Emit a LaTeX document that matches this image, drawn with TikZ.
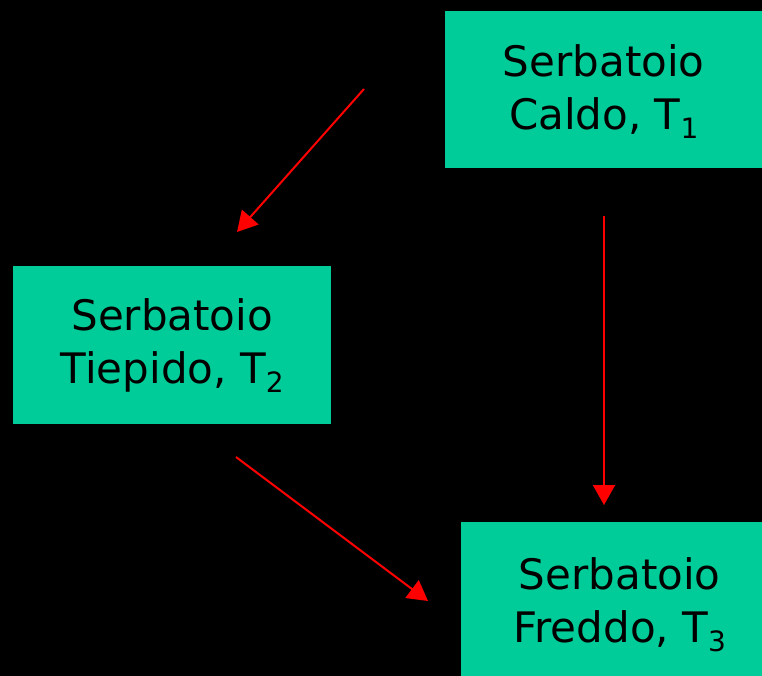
\documentclass[tikz,border=0pt]{standalone}
\usepackage{fontspec}
\setmainfont{DejaVu Sans}
\usetikzlibrary{arrows.meta}
\definecolor{boxteal}{HTML}{00CC99}
\newcommand{\tsub}[1]{{\fontsize{28}{28}\selectfont\raisebox{-9pt}[\height][0pt]{#1}}}
\begin{document}
\begin{tikzpicture}[x=1pt,y=-1pt,
  tank/.style={fill=boxteal, draw=none, anchor=north west, inner sep=0pt,
    align=center, font=\fontsize{42}{53}\selectfont, text=black},
  flow/.style={draw=red, line width=2pt, -{Triangle[length=20pt,width=22pt]}}]
\useasboundingbox (0,0) rectangle (762,676);
\clip (0,0) rectangle (762,676);
\fill[black] (0,0) rectangle (762,676);
\node[tank, minimum width=317pt, minimum height=157pt] (hot) at (445,11) {Serbatoio\\Caldo, T\tsub{1}};
\node[tank, minimum width=318pt, minimum height=158pt] (warm) at (13,266) {Serbatoio\\Tiepido, T\tsub{2}};
\node[tank, minimum width=317pt, minimum height=160pt] (cold) at (461,522) {Serbatoio\\Freddo, T\tsub{3}};
\coordinate (a1s) at (364,89);
\coordinate (a1e) at (237,232);
\coordinate (a2s) at (604,216);
\coordinate (a2e) at (604,505);
\coordinate (a3s) at (236,457);
\coordinate (a3e) at (428,601);
\draw[flow] (a1s) -- (a1e);
\draw[flow] (a2s) -- (a2e);
\draw[flow] (a3s) -- (a3e);
\end{tikzpicture}
\end{document}
